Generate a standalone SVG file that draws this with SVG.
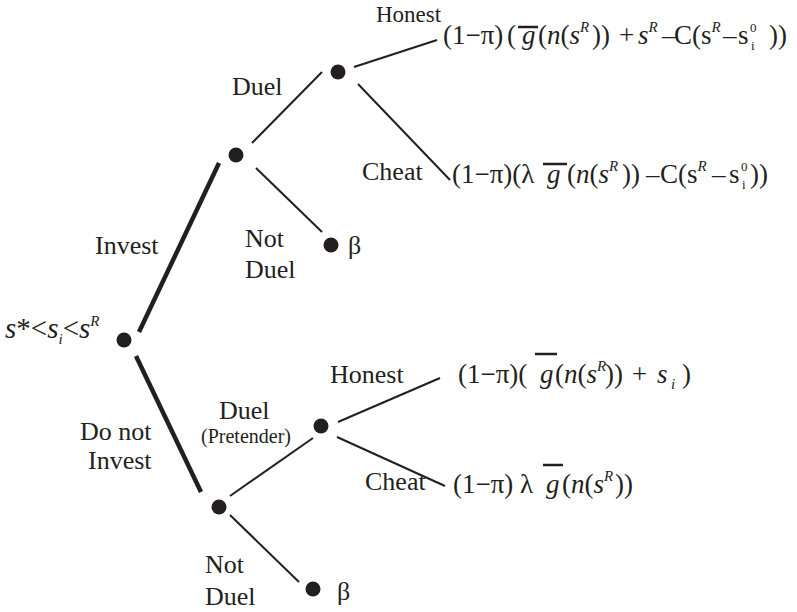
<svg xmlns="http://www.w3.org/2000/svg" width="797" height="612" viewBox="0 0 797 612">
<style>
text{font-family:"Liberation Serif","Times New Roman",serif;fill:#231f20}
.lb{font-size:26px}
.f{font-size:27px}
.i{font-style:italic}
.sup{font-size:15px;font-style:italic}
.sm{font-size:13px}
.thin{stroke:#231f20;stroke-width:2;fill:none}
.thick{stroke:#231f20;stroke-width:4.5;fill:none}
.ol{stroke:#231f20;stroke-width:2.5}
.dot{fill:#231f20}
</style>
<rect width="797" height="612" fill="#fff"/>
<g id="connectors">
<line class="thick" x1="139" y1="332" x2="219" y2="163"/>
<line class="thick" x1="136" y1="356" x2="201" y2="492"/>
<line class="thin" x1="252" y1="143" x2="322" y2="72"/>
<line class="thin" x1="354" y1="67" x2="437" y2="40"/>
<line class="thin" x1="358" y1="84" x2="450" y2="180"/>
<line class="thin" x1="256" y1="168" x2="322" y2="232"/>
<line class="thin" x1="230" y1="496" x2="313" y2="438"/>
<line class="thin" x1="338" y1="422" x2="440" y2="378"/>
<line class="thin" x1="337" y1="437" x2="445" y2="486"/>
<line class="thin" x1="230" y1="515" x2="299" y2="582"/>
</g>
<g id="root">
<circle class="dot" cx="124" cy="340" r="7.5"/>
<text x="5" y="338" style="font-size:29px"><tspan class="i">s</tspan>*&lt;<tspan class="i">s</tspan><tspan class="sup" dy="6">i</tspan><tspan dy="-6">&lt;</tspan><tspan class="i">s</tspan><tspan class="sup" dy="-12">R</tspan></text>
</g>
<g id="invest-node">
<circle class="dot" cx="236" cy="155" r="7.5"/>
<text class="lb" x="95" y="254">Invest</text>
</g>
<g id="duel-node">
<circle class="dot" cx="338" cy="72" r="7.5"/>
<text class="lb" x="232" y="95">Duel</text>
</g>
<g id="honest-outcome">
<text x="376" y="22" style="font-size:23px">Honest</text>
<text class="f" y="44"><tspan x="443">(1−π)</tspan><tspan x="507">(</tspan><tspan class="i" x="522">g</tspan><tspan x="538">(</tspan><tspan class="i">n</tspan>(<tspan class="i">s</tspan><tspan class="sup" dy="-12">R</tspan><tspan x="592" dy="12">))</tspan><tspan x="619">+</tspan><tspan class="i" x="638">s</tspan><tspan class="sup" dy="-12">R</tspan><tspan x="662" dy="12">–</tspan><tspan x="674">C(s</tspan><tspan class="sup" dy="-12">R</tspan><tspan x="723" dy="12">–</tspan><tspan x="738">s</tspan><tspan class="sm" x="750" dy="-12">0</tspan><tspan class="sm" x="751" dy="18">i</tspan><tspan x="769" dy="-6">))</tspan></text>
<line class="ol" x1="518" y1="27" x2="538" y2="27"/>
</g>
<g id="cheat-outcome">
<text class="lb" x="362" y="180">Cheat</text>
<text class="f" y="183"><tspan x="452">(1−π)(λ</tspan><tspan class="i" x="547">g</tspan><tspan x="567">(</tspan><tspan class="i">n</tspan>(<tspan class="i">s</tspan><tspan class="sup" dy="-12">R</tspan><tspan x="622" dy="12">))</tspan><tspan x="646">–</tspan><tspan x="660">C(s</tspan><tspan class="sup" dy="-12">R</tspan><tspan x="712" dy="12">–</tspan><tspan x="729">s</tspan><tspan class="sm" x="741" dy="-12">0</tspan><tspan class="sm" x="742" dy="18">i</tspan><tspan x="750" dy="-6">))</tspan></text>
<line class="ol" x1="543" y1="164" x2="567" y2="164"/>
</g>
<g id="notduel-invest">
<circle class="dot" cx="331" cy="245" r="7.5"/>
<text class="lb" x="245" y="247">Not</text>
<text class="lb" x="245" y="278">Duel</text>
<text class="lb" x="348" y="254">β</text>
</g>
<g id="noinvest-node">
<circle class="dot" cx="219" cy="507" r="7.5"/>
<text class="lb" x="80" y="440">Do not</text>
<text class="lb" x="88" y="469">Invest</text>
</g>
<g id="pretender-node">
<circle class="dot" cx="321" cy="426" r="7.5"/>
<text class="lb" x="219" y="419">Duel</text>
<text x="201" y="443" style="font-size:20px">(Pretender)</text>
</g>
<g id="pretender-honest">
<text class="lb" x="330" y="383">Honest</text>
<text class="f" y="383"><tspan x="458">(1−π)(</tspan><tspan class="i" x="540">g</tspan><tspan x="555">(</tspan><tspan class="i">n</tspan>(<tspan class="i">s</tspan><tspan class="sup" dy="-12">R</tspan><tspan x="605" dy="12">))</tspan><tspan x="632">+</tspan><tspan class="i" x="657">s</tspan><tspan class="sup" x="671" dy="6">i</tspan><tspan x="682" dy="-6">)</tspan></text>
<line class="ol" x1="535" y1="354" x2="557" y2="354"/>
</g>
<g id="pretender-cheat">
<text class="lb" x="365" y="490">Cheat</text>
<text class="f" y="493"><tspan x="453">(1−π)</tspan><tspan x="520">λ</tspan><tspan class="i" x="546">g</tspan><tspan x="562">(</tspan><tspan class="i">n</tspan>(<tspan class="i">s</tspan><tspan class="sup" dy="-12">R</tspan><tspan x="615" dy="12">))</tspan></text>
<line class="ol" x1="543" y1="465" x2="563" y2="465"/>
</g>
<g id="notduel-noinvest">
<circle class="dot" cx="313" cy="589" r="7.5"/>
<text class="lb" x="205" y="573">Not</text>
<text class="lb" x="205" y="605">Duel</text>
<text class="lb" x="337" y="600">β</text>
</g>
</svg>
